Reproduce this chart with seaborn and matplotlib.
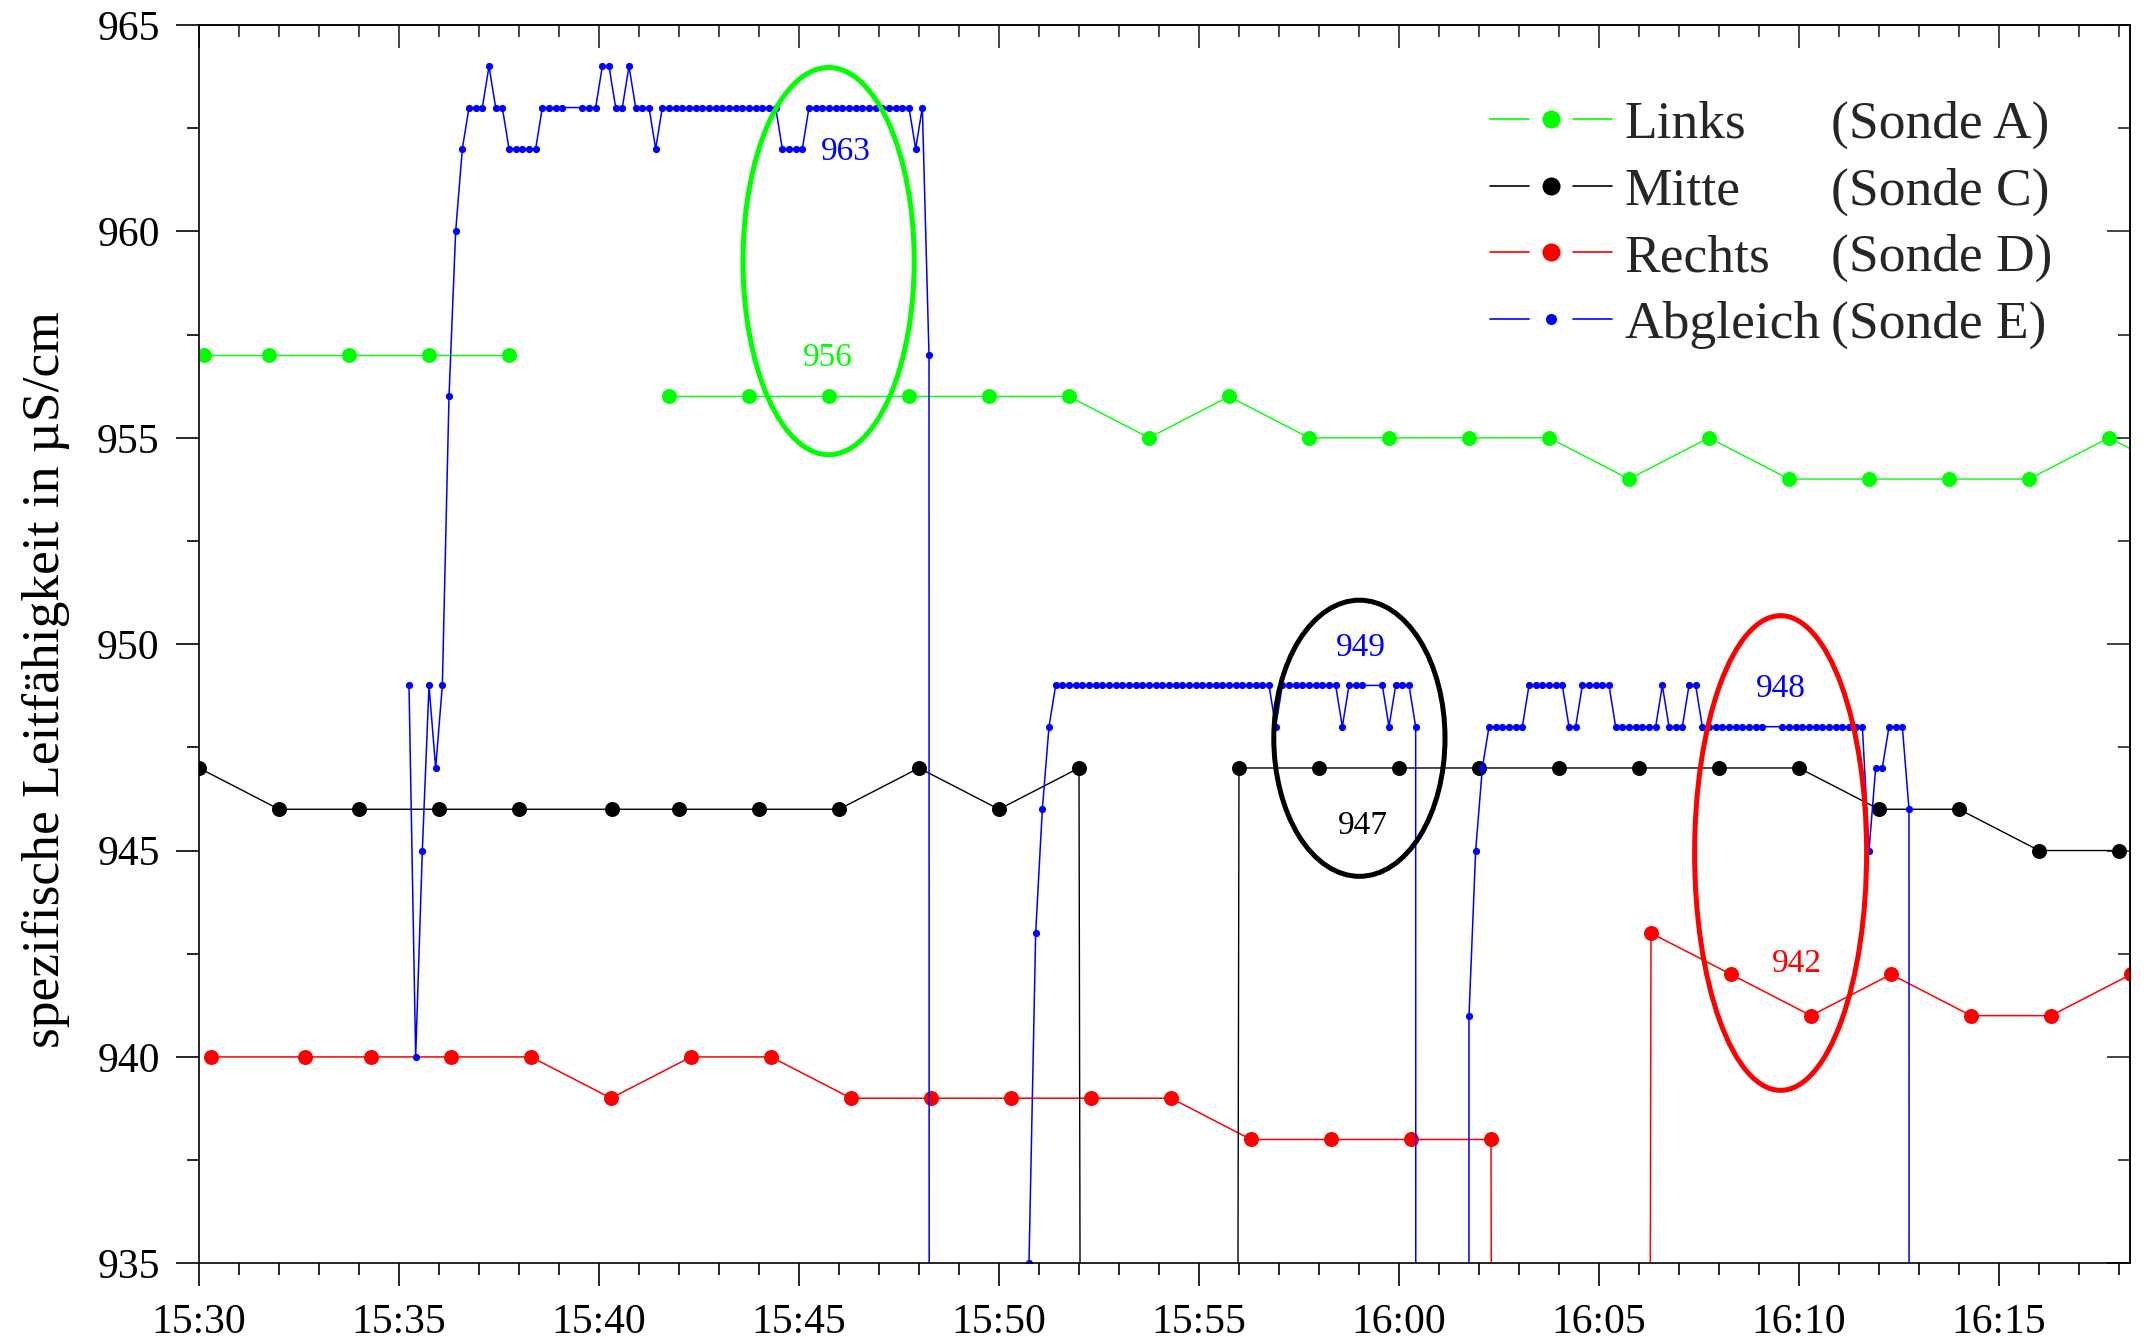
import numpy as np
import pandas as pd
import seaborn as sns
import matplotlib.pyplot as plt
from matplotlib.lines import Line2D
from matplotlib.patches import Ellipse
from matplotlib.legend_handler import HandlerBase
from matplotlib.ticker import MultipleLocator, FuncFormatter

sns.set_style("ticks")
plt.rcParams["font.family"] = ["Liberation Serif", "DejaVu Serif"]

# ---- Links (Sonde A): two recording runs, no line between them
links_time = ["15:30:08", "15:31:45", "15:33:45", "15:35:45", "15:37:45",
              "15:41:45", "15:43:45", "15:45:45", "15:47:45", "15:49:45",
              "15:51:45", "15:53:45", "15:55:45", "15:57:45", "15:59:45",
              "16:01:45", "16:03:45", "16:05:45", "16:07:45", "16:09:45",
              "16:11:45", "16:13:45", "16:15:45", "16:17:45", "16:19:45"]
links_value = [957, 957, 957, 957, 957,
               956, 956, 956, 956, 956,
               956, 955, 956, 955, 955,
               955, 955, 954, 955, 954,
               954, 954, 954, 955, 954]
links_run = [1, 1, 1, 1, 1,
             2, 2, 2, 2, 2, 2, 2, 2, 2, 2, 2, 2, 2, 2, 2, 2, 2, 2, 2, 2]

# ---- Mitte (Sonde C), 0 = Ausfall
mitte_time = ["15:30:00", "15:32:00", "15:34:00", "15:36:00", "15:38:00",
              "15:40:20", "15:42:00", "15:44:00", "15:46:00", "15:48:00",
              "15:50:00", "15:52:00", "15:54:00", "15:56:00", "15:58:00",
              "16:00:00", "16:02:00", "16:04:00", "16:06:00", "16:08:00",
              "16:10:00", "16:12:00", "16:14:00", "16:16:00", "16:18:00"]
mitte_value = [947, 946, 946, 946, 946,
               946, 946, 946, 946, 947,
               946, 947, 0, 947, 947,
               947, 947, 947, 947, 947,
               947, 946, 946, 945, 945]

# ---- Rechts (Sonde D)
rechts_time = ["15:30:18", "15:32:39", "15:34:18", "15:36:18", "15:38:18",
               "15:40:18", "15:42:18", "15:44:18", "15:46:18", "15:48:18",
               "15:50:18", "15:52:18", "15:54:18", "15:56:18", "15:58:18",
               "16:00:18", "16:02:18", "16:04:18", "16:06:18", "16:08:18",
               "16:10:18", "16:12:18", "16:14:18", "16:16:18", "16:18:18"]
rechts_value = [940, 940, 940, 940, 940,
                939, 940, 940, 939, 939,
                939, 939, 939, 938, 938,
                938, 938, 0, 943, 942,
                941, 942, 941, 941, 942]

# ---- Abgleich (Sonde E): one reading every 10 s from 15:35:15, None = no reading
abgleich_start = "15:35:15"
abgleich_step_s = 10
abgleich_value = [
    949, 940, 945, 949, 947, 949, 956, 960, 962, 963, 963, 963, 964, 963, 963,
    962, 962, 962, 962, 962, 963, 963, 963, 963, None, None, 963, 963, 963,
    964, 964, 963, 963, 964, 963, 963, 963, 962,
    963, 963, 963, 963, 963, 963, 963, 963, 963, 963, 963, 963, 963, 963, 963,
    963, 963, 963,
    962, 962, 962, 962,
    963, 963, 963, 963, 963, 963, 963, 963, 963, 963, 963, 963, 963, 963, 963,
    963,
    962, 963, 957,
    0, 0, 0, 0, 0, 0, 0, 0, 0, 0, 0, 0, 0, 0,
    935, 943, 946, 948,
    949, 949, 949, 949, 949, 949, 949, 949, 949, 949, 949, 949, 949, 949, 949,
    949, 949, 949, 949, 949, 949, 949, 949, 949, 949, 949, 949, 949, 949, 949,
    949, 949, 949,
    948, 949, 949, 949, 949, 949, 949, 949, 949, 949, 948, 949, 949, 949,
    None, None, 949, 948, 949, 949, 949, 948,
    0, 0, 0, 0, 0, 0, 0,
    941, 945, 947, 948, 948, 948, 948, 948, 948, 949, 949, 949, 949, 949, 949,
    948, 948, 949, 949, 949, 949, 949, 948, 948, 948, 948, 948, 948, 948,
    949, 948, 948, 948, 949, 949,
    948, 948, 948, 948, 948, 948, 948, 948, 948, 948, None, None,
    948, 948, 948, 948, 948, 948, 948, 948, 948, 948, 948, 948, 948,
    945, 947, 947, 948, 948, 948, 946, 0]

names = ["Links", "Mitte", "Rechts", "Abgleich"]
sonden = ["(Sonde A)", "(Sonde C)", "(Sonde D)", "(Sonde E)"]

GREEN, BLACK, RED, BLUE = "#00ff00", "#000000", "#ff0000", "#0000ff"
base = pd.Timestamp("1900-01-01 15:30:00")


def to_min(times):
    t = pd.to_datetime(pd.Series(times), format="%H:%M:%S")
    return (t - base).dt.total_seconds() / 60


links = pd.DataFrame({"minute": to_min(links_time), "value": links_value, "run": links_run})
mitte = pd.DataFrame({"minute": to_min(mitte_time), "value": mitte_value})
rechts = pd.DataFrame({"minute": to_min(rechts_time), "value": rechts_value})
t0 = pd.to_datetime(abgleich_start, format="%H:%M:%S")
abg_t = t0 + pd.to_timedelta(np.arange(len(abgleich_value)) * abgleich_step_s, unit="s")
abgleich = pd.DataFrame({"minute": (abg_t - base).total_seconds() / 60,
                         "value": pd.array(abgleich_value, dtype="Float64")}).dropna()
abgleich["value"] = abgleich["value"].astype(float)

W, H = 2152, 1344
fig = plt.figure(figsize=(W / 100, H / 100), dpi=100)
ax = fig.add_axes([199 / W, 1 - 1263.3 / H, 1931 / W, 1238.3 / H])

sns.lineplot(data=links, x="minute", y="value", units="run", estimator=None, sort=False,
             color=GREEN, linewidth=1.0, marker="o", markersize=10.8,
             markeredgewidth=0, ax=ax, legend=False)
sns.lineplot(data=rechts, x="minute", y="value", estimator=None, sort=False,
             color=RED, linewidth=1.1, marker="o", markersize=10.8,
             markeredgewidth=0, ax=ax, legend=False)
sns.lineplot(data=mitte, x="minute", y="value", estimator=None, sort=False,
             color=BLACK, linewidth=1.0, marker="o", markersize=10.8,
             markeredgewidth=0, ax=ax, legend=False)
sns.lineplot(data=abgleich, x="minute", y="value", estimator=None, sort=False,
             color=BLUE, linewidth=1.1, marker="o", markersize=5.2,
             markeredgewidth=0, ax=ax, legend=False)

# highlighted regions
for (cx, cy, w, h, c) in [(15.74, 959.28, 4.28, 9.38, GREEN),
                          (29.01, 947.72, 4.28, 6.69, BLACK),
                          (39.54, 944.94, 4.30, 11.5, RED)]:
    ax.add_patch(Ellipse((cx, cy), w, h, fill=False, edgecolor=c, lw=3.6, zorder=6))

for (s, x, y, c) in [("963", 16.18, 961.73, BLUE), ("956", 15.72, 956.74, GREEN),
                     ("949", 29.05, 949.71, BLUE), ("947", 29.10, 945.41, BLACK),
                     ("948", 39.55, 948.71, BLUE), ("942", 39.94, 942.06, RED)]:
    ax.text(x, y, s, color=c, fontsize=24, ha="center", va="baseline", zorder=7)

ax.set_xlim(0, 48.275)
ax.set_ylim(935, 965)
ax.set_xlabel("")
ax.set_ylabel("spezifische Leitfähigkeit in µS/cm", fontsize=38.5, color="black")
ax.yaxis.set_label_coords(-0.067, 0.471)

fmt = FuncFormatter(lambda m, pos: f"{15 + int(round(30 + m)) // 60}:{int(round(30 + m)) % 60:02d}")
ax.xaxis.set_major_locator(MultipleLocator(5))
ax.xaxis.set_minor_locator(MultipleLocator(1))
ax.xaxis.set_major_formatter(fmt)
ax.yaxis.set_major_locator(MultipleLocator(5))
ax.yaxis.set_minor_locator(MultipleLocator(2.5))
ax.tick_params(which="both", direction="out", width=1.2, colors="black",
               top=False, right=False, labelsize=30)
ax.tick_params(which="major", length=16.3)
ax.tick_params(which="minor", length=8.4)
ax.tick_params(axis="x", pad=13)
ax.tick_params(axis="y", pad=12)
for sp in ax.spines.values():
    sp.set_linewidth(1.2)
    sp.set_color("black")

secx = ax.secondary_xaxis("top")
secx.xaxis.set_major_locator(MultipleLocator(5))
secx.xaxis.set_minor_locator(MultipleLocator(1))
secx.tick_params(which="both", direction="in", width=1.2, labeltop=False)
secx.tick_params(which="major", length=16.3)
secx.tick_params(which="minor", length=8.4)
secy = ax.secondary_yaxis("right")
secy.yaxis.set_major_locator(MultipleLocator(5))
secy.yaxis.set_minor_locator(MultipleLocator(2.5))
secy.tick_params(which="both", direction="in", width=1.2, labelright=False)
secy.tick_params(which="major", length=16.3)
secy.tick_params(which="minor", length=8.4)
for s in (secx, secy):
    for sp in s.spines.values():
        sp.set_linewidth(1.2)


class GapLine(HandlerBase):
    # line - marker - line with open space around the marker
    def create_artists(self, legend, orig, xdescent, ydescent, width, height,
                       fontsize, trans):
        y = height / 2 - ydescent
        x0 = -xdescent
        seg = width * 0.32
        kw = dict(color=orig.get_color(), lw=orig.get_linewidth())
        a = Line2D([x0, x0 + seg], [y, y], **kw)
        b = Line2D([x0 + width - seg, x0 + width], [y, y], **kw)
        m = Line2D([x0 + width / 2], [y], ls="none", marker="o",
                   ms=orig.get_markersize(), mfc=orig.get_color(), mew=0)
        for art in (a, b, m):
            art.set_transform(trans)
        return [a, b, m]


handles = [Line2D([], [], color=c, lw=1.2, marker="o", ms=s)
           for c, s in zip([GREEN, BLACK, RED, BLUE], [13, 13, 13, 8])]
leg = ax.legend(handles, names, handler_map={Line2D: GapLine()},
                loc="center left", bbox_to_anchor=(1489.6 / W, 1 - 224.5 / H),
                bbox_transform=fig.transFigure, frameon=False, fontsize=38.5,
                handlelength=2.28, handletextpad=0.24, labelspacing=0.34,
                borderpad=0, borderaxespad=0)

fig.canvas.draw()
for txt, s in zip(leg.get_texts(), sonden):
    xa, ya = txt.get_transform().transform(txt.get_position())
    fig.text(1831 / W, ya / H, s, fontsize=38.5, ha="left", va="baseline")

fig.savefig("out.png", dpi=100)
